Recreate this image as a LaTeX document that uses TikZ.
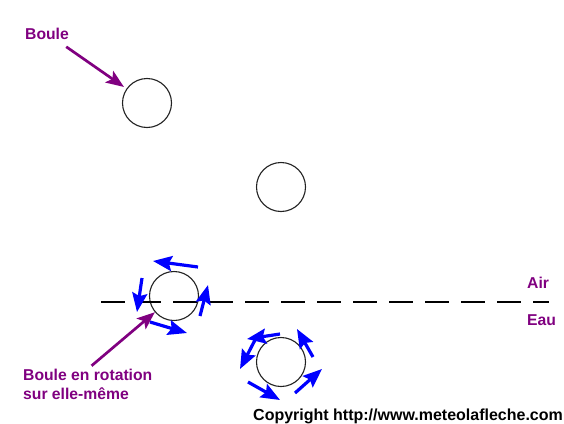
\documentclass[tikz,border=0pt]{standalone}
\usepackage{fontspec}
\setmainfont{Liberation Sans}
\usepackage{tikz}
\usetikzlibrary{positioning,arrows.meta,calc}
\definecolor{plum}{HTML}{800080}
\definecolor{spin}{HTML}{0000FF}
\definecolor{ink}{HTML}{222222}

\begin{document}
\begin{tikzpicture}[x=1pt,y=-1pt,
  font=\fontsize{15.7}{19}\selectfont\bfseries,
  boule/.style={circle,draw=ink,line width=1.1pt,minimum size=49pt,inner sep=0pt},
  tag/.style={text=plum,inner sep=0pt},
  pointer/.style={-{Stealth[length=18pt,width=14pt,inset=4pt]},line width=2.7pt,plum},
  spinarrow/.style={-{Stealth[length=19pt,width=15pt,inset=3pt]},line width=3.2pt,spin},
  surface/.style={line width=2pt,dash pattern=on 24pt off 12pt}]
\useasboundingbox (0,0) rectangle (564,423);
% balls along the fall
\node[boule] (b1) at (147,103) {};
\node[boule] (b2) at (281,187) {};
\node[boule] (b3) at (174,296) {};
\node[boule] (b4) at (281,362) {};
% water surface
\coordinate (wl) at (101,302);
\coordinate (wr) at (549,302);
\draw[surface] (wl) -- (wr);
\node[tag,anchor=base west] (air) at (527,288) {Air};
\node[tag,anchor=base west] (eau) at (527,325) {Eau};
% labels
\node[tag,anchor=base west] (bouletag) at (25,39) {Boule};
\node[tag,anchor=north west,align=left] (rottag) at (23,369) {Boule en rotation\\sur elle-même};
\draw[pointer,shorten <=13pt,shorten >=3pt] (bouletag) -- (b1);
\draw[pointer,shorten <=5pt] (rottag.north) -- (b3);
% spin arrows
\foreach \ax/\ay/\bx/\by in {24/-29/-21/-35, -32/-18/-37/16, -24/26/13/37, 26/20/34/-11}
  \draw[spinarrow] ($(b3)+(\ax,\ay)$) -- ($(b3)+(\bx,\by)$);
\foreach \ax/\ay/\bx/\by in {-1/-28/-34/-23, -26/-22/-41/7, -33/20/-1/38, 14/31/41/7, 32/-5/16/-33}
  \draw[spinarrow] ($(b4)+(\ax,\ay)$) -- ($(b4)+(\bx,\by)$);
\node[anchor=base west,inner sep=0pt,font=\fontsize{16}{19}\selectfont\bfseries] (copy) at (253,420) {Copyright http://www.meteolafleche.com};
\end{tikzpicture}
\end{document}
